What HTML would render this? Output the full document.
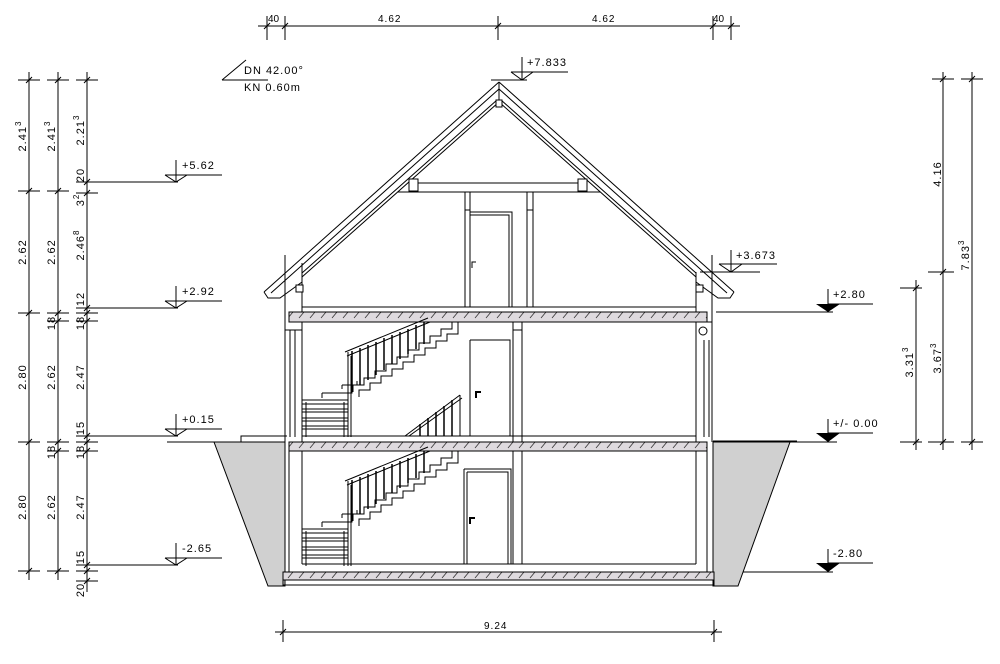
<!DOCTYPE html>
<html><head><meta charset="utf-8"><style>
html,body{margin:0;padding:0;background:#fff;}
svg{display:block;}
text{font-family:"Liberation Sans",sans-serif;font-size:11px;letter-spacing:1px;fill:#000;}
</style></head><body>
<svg width="1000" height="664" viewBox="0 0 1000 664" xmlns="http://www.w3.org/2000/svg">
<defs>
<pattern id="h" patternUnits="userSpaceOnUse" width="11" height="10">
<rect width="11" height="10" fill="#dedade"/>
<line x1="2" y1="8" x2="7" y2="2" stroke="#333" stroke-width="0.8"/>
</pattern>
</defs>
<g stroke="#000" stroke-width="1" fill="none">
<line x1="258" y1="26" x2="740" y2="26"/>
<line x1="267" y1="16" x2="267" y2="40"/><line x1="285" y1="16" x2="285" y2="40"/>
<line x1="498" y1="16" x2="498" y2="40"/><line x1="713" y1="16" x2="713" y2="40"/><line x1="731" y1="16" x2="731" y2="40"/>
<path d="M264 29l6-6M282 29l6-6M495 29l6-6M710 29l6-6M728 29l6-6"/>
<line x1="275" y1="632" x2="722" y2="632"/>
<line x1="283" y1="620" x2="283" y2="642"/><line x1="714" y1="620" x2="714" y2="642"/>
<path d="M280 635l6-6M711 635l6-6"/>
<path d="M222 80L246 60M222 80H268"/>
<line x1="29" y1="72" x2="29" y2="580"/><line x1="58" y1="72" x2="58" y2="580"/><line x1="87" y1="72" x2="87" y2="592"/>
<path d="M18 80H40M47 80H69M76 80H98M18 191H40M47 191H69M18 313H40M47 313H69M47 321H69M18 442H40M47 442H69M47 451H69M18 571H40M47 571H69"/>
<path d="M76 182H178M76 193H98M76 308H178M76 313H98M76 321H98M76 436H178M76 442H98M76 451H98M76 565H178M76 571H98M76 581H98"/>
<path d="M26 83l6-6M26 194l6-6M26 316l6-6M26 445l6-6M26 574l6-6M55 83l6-6M55 194l6-6M55 316l6-6M55 324l6-6M55 445l6-6M55 454l6-6M55 574l6-6M84 83l6-6M84 185l6-6M84 196l6-6M84 311l6-6M84 316l6-6M84 324l6-6M84 439l6-6M84 445l6-6M84 454l6-6M84 568l6-6M84 574l6-6M84 584l6-6"/>
<path d="M176 160V182M165 175H222M165 175L176 182L187 175"/>
<path d="M176 286V308M165 301H222M165 301L176 308L187 301"/>
<path d="M176 414V436M165 429H222M165 429L176 436L187 429"/>
<path d="M176 543V565M165 558H222M165 558L176 565L187 558"/>
<line x1="916" y1="280" x2="916" y2="450"/><line x1="943" y1="72" x2="943" y2="450"/><line x1="972" y1="72" x2="972" y2="450"/>
<path d="M932 79H954M961 79H983M928 272H954M900 288H922M900 442H922M928 442H954M961 442H983"/>
<path d="M913 291l6-6M913 445l6-6M940 82l6-6M940 275l6-6M940 445l6-6M969 82l6-6M969 445l6-6"/>
<path d="M828 289V312M828 304H873M716 312H833"/>
<path d="M828 419V442M828 433H873M713 442H837"/>
<path d="M828 549V572M828 563H873M716 572H833"/>
<path d="M731 250V272M719 264H777M700 272H760M719 264L731 272L742 264"/>
<path d="M522 57V80M511 72H568M511 72L522 80L533 72M491 80H527"/>
</g>
<g fill="#000">
<path d="M816 304H840L828 312Z"/><path d="M816 433H840L828 442Z"/><path d="M816 563H840L828 572Z"/>
</g>
<path d="M214 442H285V586H268Z" fill="#d0d0d0" stroke="#000"/>
<path d="M713 442H790L738 586H713Z" fill="#d0d0d0" stroke="#000"/>
<g stroke="#000" stroke-width="1" fill="none">
<path d="M167 442H214M241 442V436H287M713 441H797"/>
<!-- roof -->
<path d="M499 82L264 292M499 82L734 292"/>
<path d="M499 89L271 293M499 89L727 293"/>
<path d="M497 100L302 273M501 100L696 273"/>
<path d="M499 102L302 277M499 102L696 277"/>
<path d="M264 292L268 298H280L302 282M734 292L730 298H718L696 282"/>
<line x1="499" y1="82" x2="499" y2="102"/>
<rect x="496" y="100" width="6" height="7" fill="#fff"/>
<path d="M412 183H587M412 192H600M398 192H412"/>
<rect x="409" y="179" width="9" height="12" fill="#fff"/>
<rect x="578" y="179" width="9" height="12" fill="#fff"/>
<path d="M465 192V307M470 192V307M527 192V307M533 192V307M527 210H533M465 210H470"/>
<path d="M470 212H512V307M470 215H509V307"/>
<path d="M472 268V262H476"/>
<path d="M302 307H696"/>
<path d="M285 255V442M302 263V442M696 272V442M712 255V442"/>
<path d="M290 330V437M295 330V437M285 330H302M704 340V437M709 340V437M696 322H712"/>
<rect x="296" y="285" width="7" height="7" fill="#fff"/>
<rect x="696" y="285" width="7" height="7" fill="#fff"/>
<circle cx="703" cy="331" r="4"/>
<path d="M285 586V442M289 451V572M302 451V564M696 451V564M707 451V572"/>
<path d="M513 322V442M522 322V442M513 330H522M513 451V564M522 451V564"/>
<path d="M302 436H696M302 564H696"/>
<path d="M470 340H510V436M470 340V436"/>
<path d="M476 398V392H481" stroke-width="2"/>
<path d="M464 469H511V564M464 469V564M467 472H508V564M467 472V564"/>
<path d="M470 524V518H475" stroke-width="2"/>
</g>
<rect x="289" y="312" width="418" height="10" fill="url(#h)" stroke="#000"/>
<rect x="289" y="442" width="418" height="9" fill="url(#h)" stroke="#000"/>
<rect x="283" y="572" width="431" height="8" fill="url(#h)" stroke="#000"/>
<path d="M283 580V585H714V580" fill="none" stroke="#000"/>
<g id="st" stroke="#000" stroke-width="1" fill="none">
<polyline points="452,322 452,329 441,329 441,336 430,336 430,343 419,343 419,350 408,350 408,357 397,357 397,364 386,364 386,371 375,371 375,378 364,378 364,385 353,385 353,392"/>
<polyline points="458,322 458,334 447,334 447,341 436,341 436,348 425,348 425,355 414,355 414,362 403,362 403,369 392,369 392,376 381,376 381,383 370,383 370,390 359,390 359,397"/>
<path d="M345 352L428 318M347 356L430 322"/>
<path d="M352 351V390M360 348V385M368 345V380M376 342V375M384 338V370M392 335V364M400 332V359M408 329V354M416 325V349M424 322V344" stroke-width="1.5"/>
<path d="M348 352V437M351 356V437"/>
<path d="M302 400H348M302 404H348M302 409H348M302 412H348M302 418H348M302 421H348M302 426H348M302 429H348"/>
<path d="M322 393H352V389M322 393V398M342 385H357V381M342 385V389"/>
<path d="M306 402V437M344 402V437"/>
</g>
<use href="#st" transform="translate(0,129)"/>
<g stroke="#000" stroke-width="1" fill="none">
<path d="M405 436L460 395M409 436L462 398M460 395V436"/>
<path d="M420 424V436M428 418V436M436 412V436M444 406V436M452 400V436" stroke-width="1.5"/>
</g>
<text x="268" y="22" style="font-size:10px;letter-spacing:0">40</text>
<text x="378" y="22" style="font-size:10px">4.62</text>
<text x="592" y="22" style="font-size:10px">4.62</text>
<text x="713" y="22" style="font-size:10px;letter-spacing:0">40</text>
<text x="484" y="629" style="font-size:10px">9.24</text>
<text x="244" y="74">DN 42.00°</text>
<text x="244" y="91">KN 0.60m</text>
<text x="527" y="66">+7.833</text>
<text x="736" y="259">+3.673</text>
<text x="833" y="298">+2.80</text>
<text x="833" y="427">+/- 0.00</text>
<text x="833" y="557">-2.80</text>
<text x="182" y="169">+5.62</text>
<text x="182" y="295">+2.92</text>
<text x="182" y="423">+0.15</text>
<text x="182" y="552">-2.65</text>
<g text-anchor="middle">
<text transform="translate(26,136) rotate(-90)">2.41<tspan dy="-5" font-size="8">3</tspan></text>
<text transform="translate(26,252) rotate(-90)">2.62</text>
<text transform="translate(26,377) rotate(-90)">2.80</text>
<text transform="translate(26,507) rotate(-90)">2.80</text>
<text transform="translate(55,136) rotate(-90)">2.41<tspan dy="-5" font-size="8">3</tspan></text>
<text transform="translate(55,252) rotate(-90)">2.62</text>
<text transform="translate(55,323) rotate(-90)">18</text>
<text transform="translate(55,377) rotate(-90)">2.62</text>
<text transform="translate(55,452) rotate(-90)">18</text>
<text transform="translate(55,507) rotate(-90)">2.62</text>
<text transform="translate(84,130) rotate(-90)">2.21<tspan dy="-5" font-size="8">3</tspan></text>
<text transform="translate(84,175) rotate(-90)">20</text>
<text transform="translate(84,200) rotate(-90)">3<tspan dy="-5" font-size="8">2</tspan></text>
<text transform="translate(84,245) rotate(-90)">2.46<tspan dy="-5" font-size="8">8</tspan></text>
<text transform="translate(84,299) rotate(-90)">12</text>
<text transform="translate(84,323) rotate(-90)">18</text>
<text transform="translate(84,377) rotate(-90)">2.47</text>
<text transform="translate(84,428) rotate(-90)">15</text>
<text transform="translate(84,452) rotate(-90)">18</text>
<text transform="translate(84,507) rotate(-90)">2.47</text>
<text transform="translate(84,557) rotate(-90)">15</text>
<text transform="translate(84,590) rotate(-90)">20</text>
<text transform="translate(913,362) rotate(-90)">3.31<tspan dy="-5" font-size="8">3</tspan></text>
<text transform="translate(941,358) rotate(-90)">3.67<tspan dy="-5" font-size="8">3</tspan></text>
<text transform="translate(941,174) rotate(-90)">4.16</text>
<text transform="translate(969,255) rotate(-90)">7.83<tspan dy="-5" font-size="8">3</tspan></text>
</g>
</svg>
</body></html>
